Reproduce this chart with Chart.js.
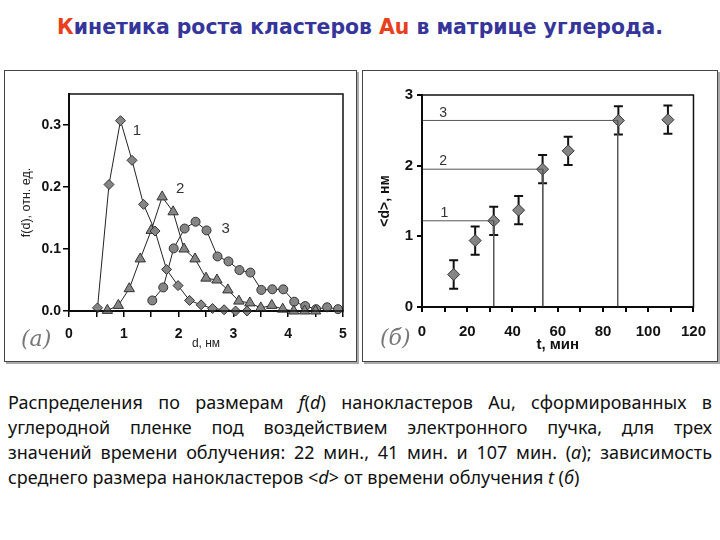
<!DOCTYPE html>
<html>
<head>
<meta charset="utf-8">
<script src="https://cdn.jsdelivr.net/npm/chart.js@4.4.0/dist/chart.umd.min.js"></script>
<style>
  body { margin: 0; width: 720px; height: 540px; background: #fff; position: relative; overflow: hidden; }
  #title { position: absolute; left: 0; top: 15px; width: 720px; text-align: center;
           font: bold 20.4px "DejaVu Sans"; color: #35359a; }
  #title .red { color: #e8401c; }
  .panel { position: absolute; top: 70px; height: 290px; border: 1px solid #444; box-shadow: 2px 2px 0 #aaa; }
  #pa { left: 4px; width: 351px; }
  #pb { left: 362px; width: 354px; }
  .tag { position: absolute; font: italic 22px "DejaVu Serif"; color: #777; }
  #caption { position: absolute; left: 8px; top: 390px; width: 704px; font: 18px "Noto Sans"; color: #111; line-height: 25px; }
  #caption .j { text-align: justify; text-align-last: justify; white-space: nowrap; }
  #caption .l { white-space: nowrap; }
</style>
</head>
<body>
<div id="title"><span class="red">К</span>инетика роста кластеров <span class="red">Au</span> в матрице углерода.</div>

<div class="panel" id="pa"><canvas id="chartA" width="351" height="290"></canvas></div>
<div class="panel" id="pb"><canvas id="chartB" width="354" height="290"></canvas></div>
<div class="tag" style="left:21px; top:326px;">(а)</div>
<div class="tag" style="left:380px; top:325px;">(б)</div>

<div id="caption">
  <div class="j">Распределения по размерам <i>f</i>(<i>d</i>) нанокластеров Au, сформированных в</div>
  <div class="j">углеродной пленке под воздействием электронного пучка, для трех</div>
  <div class="j">значений времени облучения: 22 мин., 41 мин. и 107 мин. (<i>а</i>); зависимость</div>
  <div class="l">среднего размера нанокластеров &lt;<i>d</i>&gt; от времени облучения <i>t</i> (<i>б</i>)</div>
</div>

<script>
// (а) распределения f(d)
const d1 = [0.52, 0.73, 0.94, 1.15, 1.36, 1.57, 1.78, 1.99, 2.2, 2.41, 2.62, 2.83, 3.04, 3.25];
const f1 = [0.005, 0.204, 0.307, 0.243, 0.172, 0.129, 0.067, 0.041, 0.017, 0.010, 0.004, 0.002, 0.0, 0.0];
const d2 = [0.7, 0.9, 1.1, 1.3, 1.5, 1.7, 1.9, 2.1, 2.3, 2.5, 2.7, 2.9, 3.1, 3.3, 3.5, 3.7, 3.9, 4.1, 4.3, 4.5];
const f2 = [0.001, 0.009, 0.036, 0.084, 0.13, 0.184, 0.16, 0.1, 0.084, 0.053, 0.05, 0.034, 0.016, 0.013, 0.005, 0.009, 0.003, 0.0, 0.0, 0.0];
const d3 = [1.52, 1.72, 1.91, 2.11, 2.31, 2.51, 2.71, 2.91, 3.11, 3.31, 3.51, 3.71, 3.91, 4.11, 4.31, 4.51, 4.71, 4.91];
const f3 = [0.017, 0.038, 0.101, 0.133, 0.144, 0.13, 0.088, 0.08, 0.066, 0.062, 0.034, 0.035, 0.035, 0.015, 0.008, 0.003, 0.006, 0.003];
const curveLabels = ['1', '2', '3'];
const curveLabelX = [1.24, 2.03, 2.86];
const curveLabelY = [0.29, 0.197, 0.133];

// (б) средний размер <d> от времени t
const tMin = [14, 23.5, 31.7, 42.7, 53.3, 64.6, 86.8, 108.7];
const dMean = [0.46, 0.94, 1.22, 1.37, 1.95, 2.21, 2.64, 2.65];
const dErr = [0.2, 0.2, 0.2, 0.2, 0.2, 0.2, 0.2, 0.2];
const refT = [31.7, 53.4, 86.5];
const refD = [1.22, 1.95, 2.64];
const refLabels = ['1', '2', '3'];
const refLabelT = [9.9, 9.3, 9.3];
const refLabelD = [1.33, 2.06, 2.75];

function pts(xs, ys) {
    return xs.map((x, i) => ({ x: x, y: ys[i] }));
}

const framePlugin = {
    id: 'frame',
    afterDraw(chart) {
        const a = chart.chartArea, c = chart.ctx;
        c.save();
        c.strokeStyle = '#111';
        c.lineWidth = 1.5;
        c.strokeRect(a.left, a.top, a.right - a.left, a.bottom - a.top);
        c.restore();
    }
};

function textPlugin(id, texts, xs, ys, font) {
    return {
        id: id,
        afterDatasetsDraw(chart) {
            const c = chart.ctx, sx = chart.scales.x, sy = chart.scales.y;
            c.save();
            c.font = font;
            c.fillStyle = '#333';
            c.textAlign = 'center';
            c.textBaseline = 'middle';
            texts.forEach((t, i) => c.fillText(t, sx.getPixelForValue(xs[i]), sy.getPixelForValue(ys[i])));
            c.restore();
        }
    };
}

const errorBars = {
    id: 'errorBars',
    beforeDatasetsDraw(chart) {
        const c = chart.ctx, sx = chart.scales.x, sy = chart.scales.y;
        c.save();
        c.strokeStyle = '#111';
        c.lineWidth = 2;
        tMin.forEach((t, i) => {
            const x = sx.getPixelForValue(t);
            const y1 = sy.getPixelForValue(dMean[i] - dErr[i]);
            const y2 = sy.getPixelForValue(dMean[i] + dErr[i]);
            c.beginPath();
            c.moveTo(x, y1); c.lineTo(x, y2);
            c.moveTo(x - 4.5, y1); c.lineTo(x + 4.5, y1);
            c.moveTo(x - 4.5, y2); c.lineTo(x + 4.5, y2);
            c.stroke();
        });
        c.restore();
    }
};

function series(data, style, radius) {
    return {
        data: data,
        showLine: true,
        borderColor: '#222',
        borderWidth: 1,
        pointStyle: style,
        pointRadius: radius,
        pointBackgroundColor: '#858585',
        pointBorderColor: '#333',
        pointBorderWidth: 1,
        clip: false
    };
}

new Chart(document.getElementById('chartA'), {
    type: 'scatter',
    data: {
        datasets: [
            series(pts(d1, f1), 'rectRot', 5),
            series(pts(d2, f2), 'triangle', 6),
            series(pts(d3, f3), 'circle', 4.5)
        ]
    },
    options: {
        responsive: false,
        animation: false,
        layout: { padding: { left: 12, top: 23, right: 13, bottom: 0 } },
        plugins: { legend: { display: false }, tooltip: { enabled: false } },
        scales: {
            x: {
                min: 0, max: 5,
                afterFit: s => { s.height = 50; },
                border: { color: '#000', width: 2 },
                grid: { drawOnChartArea: false, color: '#000', lineWidth: 1.5, tickLength: 6 },
                ticks: {
                    stepSize: 0.5, padding: 9, color: '#111', autoSkip: false, maxRotation: 0,
                    font: { family: 'Liberation Sans', size: 14, weight: 'bold' },
                    callback: v => Math.abs(v - Math.round(v)) < 1e-6 ? Math.round(v) : ''
                },
                title: { display: true, text: 'd, нм', color: '#222',
                         font: { family: 'Liberation Sans', size: 12 }, padding: { top: 0, bottom: 10 } }
            },
            y: {
                min: 0, max: 0.35,
                afterFit: s => { s.width = 52; },
                border: { color: '#000', width: 2 },
                grid: { drawOnChartArea: false, color: '#000', lineWidth: 1.5, tickLength: 6 },
                ticks: {
                    stepSize: 0.1, includeBounds: false, padding: 2, color: '#111',
                    font: { family: 'Liberation Sans', size: 14, weight: 'bold' },
                    callback: v => v.toFixed(1)
                },
                title: { display: true, text: 'f(d), отн. ед.', color: '#222',
                         font: { family: 'Liberation Sans', size: 12.5 }, padding: { top: 2, bottom: 0 } }
            }
        }
    },
    plugins: [framePlugin, textPlugin('curveLabels', curveLabels, curveLabelX, curveLabelY, '15px "Liberation Sans"')]
});

const refSets = refT.map((t, i) => ({
    data: [{ x: 0, y: refD[i] }, { x: t, y: refD[i] }, { x: t, y: 0 }],
    showLine: true,
    borderColor: '#555',
    borderWidth: 1,
    pointRadius: 0
}));

new Chart(document.getElementById('chartB'), {
    type: 'scatter',
    data: {
        datasets: refSets.concat([{
            data: pts(tMin, dMean),
            pointStyle: 'rectRot',
            pointRadius: 6,
            pointBackgroundColor: '#858585',
            pointBorderColor: '#333',
            pointBorderWidth: 1,
            clip: false
        }])
    },
    options: {
        responsive: false,
        animation: false,
        layout: { padding: { left: 10, top: 24, right: 20, bottom: 0 } },
        plugins: { legend: { display: false }, tooltip: { enabled: false } },
        scales: {
            x: {
                min: 0, max: 120,
                afterFit: s => { s.height = 54; },
                border: { color: '#000', width: 2 },
                grid: { drawOnChartArea: false, color: '#000', lineWidth: 2, tickLength: 5 },
                ticks: {
                    stepSize: 10, padding: 11, color: '#111', autoSkip: false, maxRotation: 0,
                    font: { family: 'Liberation Sans', size: 15, weight: 'bold' },
                    callback: v => v % 20 === 0 ? v : ''
                },
                title: { display: true, text: 't, мин', color: '#111',
                         font: { family: 'Liberation Sans', size: 15, weight: 'bold' }, padding: { top: 0, bottom: 7 } }
            },
            y: {
                min: 0, max: 3,
                afterFit: s => { s.width = 49; },
                border: { color: '#000', width: 2 },
                grid: { drawOnChartArea: false, color: '#000', lineWidth: 2, tickLength: 5 },
                ticks: {
                    stepSize: 1, padding: 4, color: '#111',
                    font: { family: 'Liberation Sans', size: 15, weight: 'bold' }
                },
                title: { display: true, text: '<d>, нм', color: '#111',
                         font: { family: 'Liberation Sans', size: 14, weight: 'bold' }, padding: { top: 4, bottom: 0 } }
            }
        }
    },
    plugins: [framePlugin, errorBars, textPlugin('refLabels', refLabels, refLabelT, refLabelD, '14px "Liberation Sans"')]
});
</script>
</body>
</html>
